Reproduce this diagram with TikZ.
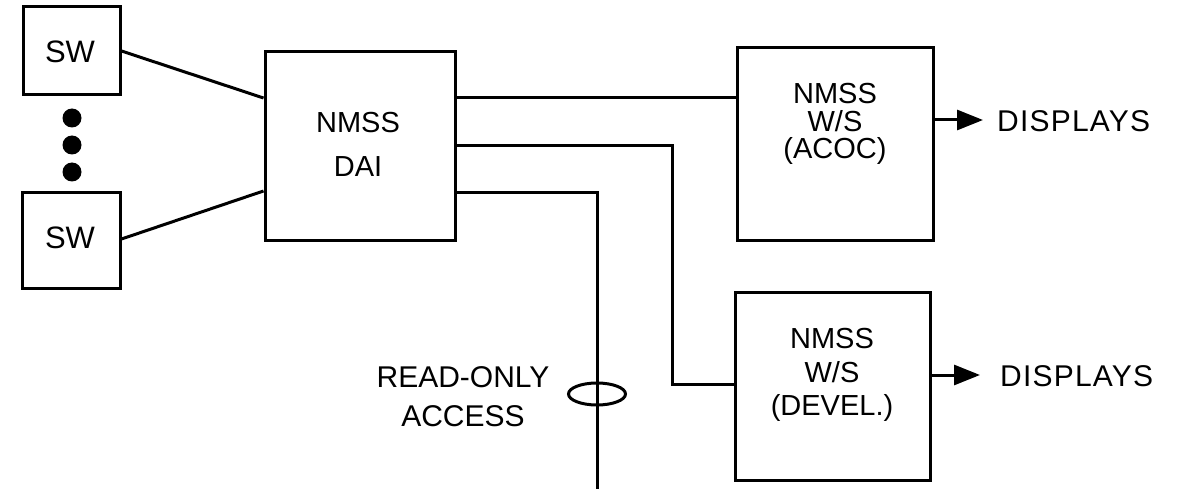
\documentclass[tikz,border=0pt]{standalone}
\usepackage{fontspec}
\setmainfont{Liberation Sans}
\usetikzlibrary{arrows.meta,shapes.geometric}
\begin{document}
\begin{tikzpicture}[x=1pt,y=-1pt,
  box/.style={draw,line width=3pt,minimum width=#1,inner sep=0pt},
  conn/.style={line width=3pt},
  arr/.style={line width=3pt,-{Triangle[length=26pt,width=20pt]}},
  txt/.style={inner sep=0pt,align=center,font=\fontsize{29}{#1}\selectfont},
  big/.style={inner sep=0pt,font=\fontsize{30}{32}\selectfont},
  dot/.style={circle,fill=black,inner sep=0pt,minimum size=19pt}]
\useasboundingbox (0,0) rectangle (1178,489);
% boxes
\node[box=97pt,minimum height=88pt] (sw1) at (71.5,51) {};
\node[box=98pt,minimum height=95pt] (sw2) at (71,240.5) {};
\node[box=190pt,minimum height=189pt] (dai) at (360,146.5) {};
\node[box=196pt,minimum height=193pt] (acoc) at (835,144.5) {};
\node[box=195pt,minimum height=188pt] (devel) at (832.5,386) {};
% texts
\node[inner sep=0pt,font=\fontsize{31}{32}\selectfont] (t1) at (70,52) {SW};
\node[inner sep=0pt,font=\fontsize{31}{32}\selectfont] (t2) at (70,238) {SW};
\node[txt=44] (t3) at (358,144) {NMSS\\DAI};
\node[txt=27.5] (t4) at (835,124) {NMSS\\W/S\\(ACOC)};
\node[txt=33.5] (t5) at (832,375) {NMSS\\W/S\\(DEVEL.)};
% dots
\node[dot] (p1) at (72,118) {};
\node[dot] (p2) at (72,145) {};
\node[dot] (p3) at (72,172) {};
% connectors from SW
\draw[conn] (sw1.east) -- ([yshift=48.5pt]dai.west);
\draw[conn] ([yshift=1.5pt]sw2.east) -- ([yshift=-44.5pt]dai.west);
% connectors from DAI
\coordinate (d1) at ([yshift=48.5pt]dai.east);
\coordinate (d2) at ([yshift=0.5pt]dai.east);
\coordinate (d3) at ([yshift=-46.5pt]dai.east);
\coordinate (c2) at (672,384);
\coordinate (c3) at (597,489);
\draw[conn] (d1) -- (d1 -| acoc.west);
\draw[conn] (d2) -| (c2) -- (c2 -| devel.west);
\draw[conn] (d3) -| (c3);
% read-only access
\node[draw,ellipse,line width=3pt,minimum width=57pt,minimum height=22pt,inner sep=0pt] (ell) at (597,394) {};
\node[big,align=center,font=\fontsize{30}{39}\selectfont] (ro) at (463,397) {READ-ONLY\\ACCESS};
% displays
\coordinate (a1) at (983,120);
\coordinate (a2) at (980,375);
\draw[arr] ([yshift=24.5pt]acoc.east) -- (a1);
\draw[arr] ([yshift=11pt]devel.east) -- (a2);
\node[big,anchor=west,font=\fontsize{30}{32}\selectfont\addfontfeature{LetterSpace=4}] (disp1) at (997,121) {DISPLAYS};
\node[big,anchor=west,font=\fontsize{30}{32}\selectfont\addfontfeature{LetterSpace=4}] (disp2) at (1000,376) {DISPLAYS};
\end{tikzpicture}
\end{document}
